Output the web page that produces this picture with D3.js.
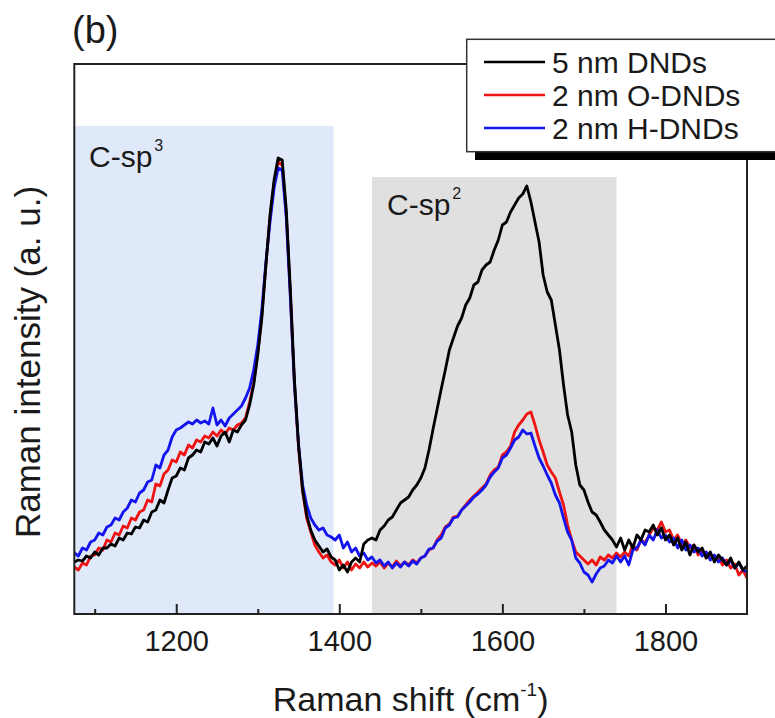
<!DOCTYPE html>
<html>
<head>
<meta charset="utf-8">
<script src="https://cdn.jsdelivr.net/npm/d3@7"></script>
<style>
  html, body { margin: 0; padding: 0; background: #fff; }
  svg { display: block; font-family: "Liberation Sans", Arial, sans-serif; }
</style>
</head>
<body>
<svg id="chart" width="775" height="718"></svg>
<script>
// Raman shift (cm^-1), 5 cm^-1 sampling
const shift = [
  1075,1080,1085,1090,1095,1100,1105,1110,1115,1120,
  1125,1130,1135,1140,1145,1150,1155,1160,1165,1170,
  1175,1180,1185,1190,1195,1200,1205,1210,1215,1220,
  1225,1230,1235,1240,1245,1250,1255,1260,1265,1270,
  1275,1280,1285,1290,1295,1300,1305,1310,1315,1320,
  1325,1330,1335,1340,1345,1350,1355,1360,1365,1370,
  1375,1380,1385,1390,1395,1400,1405,1410,1415,1420,
  1425,1430,1435,1440,1445,1450,1455,1460,1465,1470,
  1475,1480,1485,1490,1495,1500,1505,1510,1515,1520,
  1525,1530,1535,1540,1545,1550,1555,1560,1565,1570,
  1575,1580,1585,1590,1595,1600,1605,1610,1615,1620,
  1625,1630,1635,1640,1645,1650,1655,1660,1665,1670,
  1675,1680,1685,1690,1695,1700,1705,1710,1715,1720,
  1725,1730,1735,1740,1745,1750,1755,1760,1765,1770,
  1775,1780,1785,1790,1795,1800,1805,1810,1815,1820,
  1825,1830,1835,1840,1845,1850,1855,1860,1865,1870,
  1875,1880,1885,1890,1895,1900
];

// Raman intensity (a. u.) for each sample
const dnd5 = [
  52,54,53,58,56,62,59,66,66,70,
  68,76,74,81,80,87,86,94,92,102,
  104,114,111,124,136,138,146,144,156,159,
  164,162,172,170,176,168,178,182,172,184,
  182,189,194,209,229,259,296,349,399,434,
  456,454,404,324,234,169,124,99,84,74,
  68,62,65,57,54,44,49,42,52,56,
  52,70,74,76,74,84,88,94,97,104,
  111,114,117,124,129,136,146,164,185,205,
  225,244,264,276,288,296,309,316,329,332,
  344,349,352,364,374,389,392,402,409,416,
  420,428,412,392,372,339,322,314,289,264,
  229,199,182,149,129,124,112,102,99,92,
  84,79,74,67,76,64,74,66,79,74,
  84,82,89,79,86,74,79,69,76,64,
  72,59,69,62,66,56,62,52,59,54,
  49,56,46,52,44,48
];

const odnd2 = [
  47,44,51,49,58,59,66,64,74,72,
  81,79,88,86,96,94,102,104,114,112,
  130,128,140,144,154,152,162,159,169,166,
  174,172,178,176,182,178,184,180,186,184,
  189,191,196,212,231,262,299,349,396,431,
  452,449,399,319,229,166,122,96,82,69,
  62,56,59,52,49,54,46,52,44,50,
  46,52,47,51,48,52,46,51,47,53,
  48,52,49,54,51,56,58,64,66,74,
  79,87,90,97,98,104,109,114,118,122,
  126,130,139,144,147,159,162,168,182,189,
  194,200,202,189,174,162,149,142,136,122,
  109,89,74,62,58,54,50,54,49,57,
  54,59,56,61,57,62,58,69,64,74,
  71,79,86,84,92,82,84,74,79,69,
  74,66,69,59,64,56,60,54,57,49,
  54,46,50,39,44,36
];

const hdnd2 = [
  61,58,66,64,72,74,81,79,87,89,
  96,94,102,106,114,112,121,124,132,134,
  149,146,159,164,177,184,186,189,192,190,
  194,191,193,190,206,189,194,188,196,200,
  204,208,216,226,244,269,304,352,392,426,
  446,444,396,316,229,169,129,109,96,89,
  84,86,79,77,74,79,66,72,62,66,
  58,61,54,57,51,54,48,52,46,51,
  47,52,48,53,50,56,58,65,66,73,
  76,86,89,96,97,104,108,112,117,120,
  124,129,137,142,146,156,159,166,174,177,
  184,180,181,168,156,148,139,131,119,111,
  96,82,74,56,51,42,39,32,40,46,
  48,54,51,58,52,58,49,64,66,74,
  69,79,74,84,76,79,72,76,66,74,
  64,69,62,66,58,62,54,59,52,56,
  49,54,46,51,44,42
];

const seriesNames = ["5 nm DNDs", "2 nm O-DNDs", "2 nm H-DNDs"];
const seriesColors = ["#000000", "#ee1414", "#1414ee"];

// Shaded spectral bands
const bandNames = ["C-sp", "C-sp"];
const bandSup = ["3", "2"];
const bandFrom = [1075, 1440];
const bandTo = [1393, 1740];
const bandTop = [488, 437];
const bandFill = ["#dfe9f9", "#e0e0e0"];

const majorTicks = [1200, 1400, 1600, 1800];
const minorTicks = [1100, 1300, 1500, 1700];

const svg = d3.select("#chart");
const plotL = 74.3, plotR = 747, plotT = 64, plotB = 614;

const x = d3.scaleLinear().domain([1075, 1900]).range([plotL, plotR]);
const y = d3.scaleLinear().domain([0, 550]).range([plotB, plotT]);

// bands
const bandG = svg.append("g");
bandFrom.forEach((f, i) => {
  bandG.append("rect")
    .attr("x", x(f)).attr("y", y(bandTop[i]))
    .attr("width", x(bandTo[i]) - x(f))
    .attr("height", y(0) - y(bandTop[i]))
    .attr("fill", bandFill[i]);
});

// band labels
const bandLabelPos = [[89, 167], [387, 215]];
bandNames.forEach((n, i) => {
  const t = svg.append("text")
    .attr("x", bandLabelPos[i][0]).attr("y", bandLabelPos[i][1])
    .attr("font-size", 30).attr("fill", "#1a1a1a");
  t.append("tspan").text(n);
  t.append("tspan").attr("font-size", 16).attr("dy", -16).attr("dx", 2).text(bandSup[i]);
});

// spectra
const line = d3.line().x(d => x(d[0])).y(d => y(d[1]));
const seriesData = [dnd5, odnd2, hdnd2];
const drawOrder = [1, 2, 0];
const plotG = svg.append("g");
drawOrder.forEach(k => {
  const pts = shift.map((s, i) => [s, seriesData[k][i]]);
  plotG.append("path")
    .attr("d", line(pts))
    .attr("fill", "none")
    .attr("stroke", seriesColors[k])
    .attr("stroke-width", 2.8)
    .attr("stroke-linejoin", "round");
});

// frame
svg.append("rect")
  .attr("x", plotL).attr("y", plotT)
  .attr("width", plotR - plotL).attr("height", plotB - plotT)
  .attr("fill", "none").attr("stroke", "#222").attr("stroke-width", 2);

// bottom axis: major ticks with labels, minor ticks without
const majorAxis = d3.axisBottom(x).tickValues(majorTicks)
  .tickSizeInner(-10).tickSizeOuter(0).tickPadding(16).tickFormat(d3.format("d"));
const minorAxis = d3.axisBottom(x).tickValues(minorTicks)
  .tickSizeInner(-5).tickSizeOuter(0).tickFormat("");

const gMaj = svg.append("g").attr("transform", `translate(0,${plotB})`).call(majorAxis);
const gMin = svg.append("g").attr("transform", `translate(0,${plotB})`).call(minorAxis);
[gMaj, gMin].forEach(g => {
  g.select(".domain").remove();
  g.selectAll(".tick line").attr("stroke", "#222").attr("stroke-width", 2);
});
gMaj.selectAll(".tick text")
  .attr("font-size", 29).attr("fill", "#1a1a1a")
  .attr("font-family", "Liberation Sans, Arial, sans-serif");

// axis titles
const xt = svg.append("text")
  .attr("x", (plotL + plotR) / 2).attr("y", 711)
  .attr("text-anchor", "middle").attr("font-size", 34).attr("fill", "#1a1a1a");
xt.append("tspan").text("Raman shift (cm");
xt.append("tspan").attr("font-size", 19).attr("dy", -15).text("-1");
xt.append("tspan").attr("dy", 15).text(")");

svg.append("text")
  .attr("transform", "translate(40,362) rotate(-90)")
  .attr("text-anchor", "middle").attr("font-size", 35).attr("fill", "#1a1a1a")
  .text("Raman intensity (a. u.)");

// panel letter
svg.append("text")
  .attr("x", 72).attr("y", 43)
  .attr("font-size", 38).attr("fill", "#1a1a1a")
  .text("(b)");

// legend with drop shadow
const lg = svg.append("g");
lg.append("rect")
  .attr("x", 475).attr("y", 47).attr("width", 320).attr("height", 113)
  .attr("fill", "#000");
lg.append("rect")
  .attr("x", 466.7).attr("y", 39.3).attr("width", 320).attr("height", 112.4)
  .attr("fill", "#fff").attr("stroke", "#333").attr("stroke-width", 1.5);
const rowY = [62, 95, 128];
seriesNames.forEach((n, i) => {
  lg.append("line")
    .attr("x1", 484).attr("x2", 545).attr("y1", rowY[i]).attr("y2", rowY[i])
    .attr("stroke", seriesColors[i]).attr("stroke-width", 2.6);
  lg.append("text")
    .attr("x", 552).attr("y", rowY[i] + 11)
    .attr("font-size", 30).attr("fill", "#1a1a1a")
    .text(n);
});
</script>
</body>
</html>
